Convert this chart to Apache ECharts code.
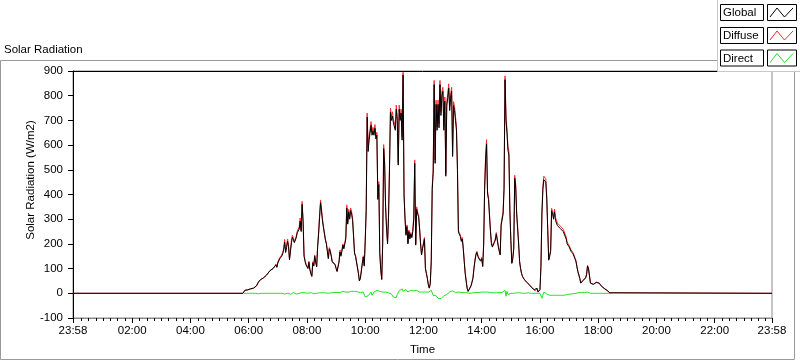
<!DOCTYPE html>
<html>
<head>
<meta charset="utf-8">
<script src="https://cdn.jsdelivr.net/npm/echarts@6/dist/echarts.min.js"></script>
<style>
html,body{margin:0;padding:0;background:#fff;}
#chart{width:800px;height:361px;}
</style>
</head>
<body>
<div id="chart"></div>
<script>
// ---- data ----
const sampleStart = '05:50';     // first sample time
const sampleStepMin = 2;         // minutes between samples
const axisStartMin = -2;         // 23:58 of previous day
const axisEndMin = 1438;         // 23:58
const nightValue = 0;

const globalW = [
0,12,14,15,14,14,16,18,19,20,
21,22,26,30,38,45,50,55,57,58,
62,65,68,72,78,82,88,92,95,98,
100,104,107,115,105,123,118,140,135,150,
160,175,207,165,185,210,190,135,170,205,
228,215,205,200,225,245,240,260,293,250,
360,290,150,130,115,107,100,125,95,80,
68,123,110,150,125,107,187,240,307,367,
330,293,265,240,215,200,170,140,180,170,
150,127,120,125,115,100,88,95,125,167,
150,170,195,180,200,220,345,280,330,300,
335,320,295,230,160,150,155,147,80,50,
60,90,120,147,110,210,334,713,574,620,
613,680,640,658,640,668,625,640,380,440,
160,95,56,200,586,520,347,260,200,307,
500,733,700,718,690,690,660,745,700,519,
745,700,730,620,884,394,300,235,270,200,
250,220,240,225,250,300,526,195,340,320,
310,260,200,155,180,200,220,100,80,60,
35,21,40,128,420,486,845,526,765,660,
765,670,845,720,800,818,660,778,474,760,
790,831,740,790,818,554,760,740,700,658,
500,247,240,230,210,220,180,128,80,48,
20,8,10,15,30,45,61,100,130,155,
165,150,140,141,130,140,108,195,420,540,
605,400,380,313,250,200,187,195,205,215,
240,247,190,170,155,275,280,320,420,865,
700,650,580,560,330,214,121,140,180,466,
430,320,260,200,128,100,80,68,60,55,
50,46,41,41,35,30,25,20,18,15,
10,8,20,5,10,15,108,320,420,460,
466,450,380,254,134,150,170,334,320,300,
330,295,290,274,270,280,262,265,255,250,
240,238,220,200,195,188,180,170,165,160,
150,140,130,108,88,81,60,41,45,50,
55,58,62,75,110,100,70,41,38,37,
36,40,42,44,45,43,41,36,30,28,
25,20,16,14,12,10,6,2,0
];

const diffuseW = [
0,12,14,15,14,14,16,18,19,20,
21,22,26,30,38,45,50,55,57,58,
62,65,68,72,78,82,88,92,95,98,
100,106,109,118,107,127,120,145,138,155,
165,180,218,170,190,220,195,140,175,212,
235,222,210,205,232,252,246,268,305,256,
372,298,155,134,118,110,103,130,98,82,
70,128,114,155,128,110,195,248,318,378,
340,300,270,245,220,204,174,144,185,174,
154,130,123,128,118,102,90,97,130,175,
155,175,200,185,206,228,358,288,340,310,
345,330,302,236,165,154,158,150,82,51,
61,92,124,152,114,218,345,730,590,635,
628,695,655,672,655,683,638,652,390,452,
165,97,57,206,602,534,356,266,205,315,
515,750,716,735,705,704,675,762,715,530,
762,716,746,634,895,405,308,240,277,205,
256,226,246,230,256,308,540,200,350,328,
318,266,205,158,184,205,226,102,81,61,
35,21,41,132,432,500,862,540,782,675,
782,686,862,736,816,834,675,795,485,776,
806,848,756,806,834,568,776,756,716,672,
512,254,246,236,215,226,184,131,82,49,
20,8,10,15,31,46,63,103,134,160,
170,155,145,146,134,145,111,201,432,556,
622,412,392,322,257,206,192,200,210,220,
246,254,195,175,160,283,288,330,432,880,
718,666,595,575,340,220,124,144,185,478,
442,330,268,206,131,102,82,70,61,56,
51,47,42,42,36,31,26,21,18,15,
10,8,20,5,10,15,111,330,433,474,
480,464,392,262,138,155,176,344,330,310,
341,306,300,284,280,290,272,274,264,259,
249,246,228,207,202,194,186,176,170,165,
155,144,134,111,90,83,62,42,46,51,
56,59,64,77,113,102,72,42,39,38,
37,41,43,45,46,44,42,37,31,29,
26,21,16,14,12,10,6,2,0
];

const directW = [
0,0,0,0,0,0,0,0,0,0,
0,0,0,0,0,-2,-2,-2,0,0,
0,0,0,0,0,-2,-2,0,0,0,
0,0,0,0,0,0,0,0,3,0,
0,0,-3,0,2,0,0,2,-4,-2,
0,3,2,0,-3,0,0,0,4,2,
3,5,3,2,2,0,0,2,2,3,
2,0,-2,2,2,0,3,3,2,0,
0,2,0,-2,2,3,2,0,0,2,
2,3,2,3,5,5,3,5,5,3,
5,3,8,10,12,5,8,3,5,8,
5,8,3,5,8,5,3,6,8,5,
3,5,8,5,-5,-15,-20,-18,-10,-15,
-5,5,-8,0,5,-3,10,12,8,5,
8,5,10,5,8,3,5,8,5,2,
0,-5,-3,-10,-15,-20,-12,-18,-5,3,
10,15,5,18,8,0,10,15,12,5,
10,8,12,5,8,10,5,8,12,5,
8,5,10,8,5,5,3,5,8,5,
5,3,8,12,5,-8,-12,-15,-10,-8,
-20,-25,-28,-22,-15,-25,-10,-5,-12,-5,
3,-8,5,-3,8,10,5,8,3,5,
3,5,2,5,3,0,5,3,5,3,
2,5,3,0,3,5,2,3,5,3,
5,8,3,5,10,5,8,3,5,5,
3,5,2,0,3,5,3,2,5,3,
2,3,0,3,5,2,3,5,0,12,
-12,8,-5,3,2,0,2,3,0,2,
0,2,0,0,2,0,0,0,2,0,
0,0,0,2,0,0,0,0,2,0,
0,0,0,0,2,0,-5,-20,-12,5,
3,0,-3,-2,-5,-8,-8,-8,-8,-8,
-8,-8,-8,-8,-8,-8,-8,-8,-8,-8,
-8,-8,-8,-5,-5,-3,-3,-3,-2,-2,
-2,0,0,3,3,3,3,3,3,3,
5,3,3,3,5,3,2,0,0,0,
0,0,0,0,0,0,0,0,0,0,
0,0,0,0,0,0,0,0,0
];

const xTickValues = [-2,120,240,360,480,600,720,840,960,1080,1200,1320,1438];
const xTickLabels = ['23:58','02:00','04:00','06:00','08:00','10:00','12:00','14:00','16:00','18:00','20:00','22:00','23:58'];
const minorTickStepMin = 15;
const seriesNames = ['Global','Diffuse','Direct'];
const seriesColors = ['#000000','#ff2a2a','#1fe51f'];

// ---- build ----
const FONT = '"Liberation Sans", Arial, sans-serif';
function toMin(s){ const p = s.split(':').map(Number); return p[0]*60+p[1]; }
const t0 = toMin(sampleStart);
const times = globalW.map((_, i) => t0 + i*sampleStepMin);
const tLast = times[times.length-1];
function withNight(arr){
  const d = [[axisStartMin, nightValue],[t0 - sampleStepMin, nightValue]];
  arr.forEach((v,i)=>d.push([times[i], v]));
  d.push([tLast + sampleStepMin, nightValue]);
  d.push([axisEndMin, nightValue]);
  return d;
}
function dayOnly(arr){ return arr.map((v,i)=>[times[i], v]); }
const minorTicks = [];
for (let m = minorTickStepMin; m < axisEndMin; m += minorTickStepMin) {
  if (m % 120 !== 0) minorTicks.push(m);
}

const chart = echarts.init(document.getElementById('chart'), null, {renderer:'canvas'});
const axisText = {color:'#000', fontSize:11.5, fontFamily: FONT};

function legendItem(name, color, y){
  return [
    {type:'rect', z:60, silent:true, shape:{x:720.5, y:y+0.5, width:43, height:16}, style:{fill:'#fff', stroke:'#000', lineWidth:1}},
    {type:'text', z:61, silent:true, x:723, y:y+9, style:{text:name, fill:'#000', font:'11.5px ' + FONT, textVerticalAlign:'middle'}},
    {type:'rect', z:60, silent:true, shape:{x:767.5, y:y+0.5, width:29, height:16}, style:{fill:'#fff', stroke:'#000', lineWidth:1}},
    {type:'polyline', z:61, silent:true, shape:{points:[[770,y+13],[777,y+4],[784.5,y+13],[793,y+4]]}, style:{stroke:color, lineWidth:1, fill:null}}
  ];
}

chart.setOption({
  animation:false,
  backgroundColor:'#fff',
  title:{text:'Solar Radiation', left:4, top:44, padding:0,
    textStyle:{fontSize:11.5, fontWeight:'normal', color:'#000', fontFamily:FONT}},
  grid:{left:73, top:71, width:699, height:251, show:true, borderColor:'#8a8a8a', borderWidth:1, backgroundColor:'transparent'},
  xAxis:[
    {type:'value', min:axisStartMin, max:axisEndMin, position:'bottom',
     axisLine:{show:true, onZero:false, lineStyle:{color:'#8a8a8a', width:1}},
     axisTick:{show:true, customValues:xTickValues, length:5, inside:false, lineStyle:{color:'#000'}},
     axisLabel:{show:true, customValues:xTickValues, margin:7, ...axisText,
       formatter:(v)=>{ const i = xTickValues.indexOf(v); return i>=0 ? xTickLabels[i] : ''; }},
     splitLine:{show:false},
     name:'Time', nameLocation:'middle', nameGap:26, nameTextStyle:axisText},
    {type:'value', min:axisStartMin, max:axisEndMin, position:'bottom', offset:0,
     axisLine:{show:false, onZero:false},
     axisTick:{show:true, customValues:minorTicks, length:3, lineStyle:{color:'#000'}},
     axisLabel:{show:false, customValues:minorTicks}, splitLine:{show:false}},
    {type:'value', min:axisStartMin, max:axisEndMin, position:'top',
     axisLine:{show:true, onZero:false, lineStyle:{color:'#000', width:1}},
     axisTick:{show:false}, axisLabel:{show:false}, splitLine:{show:false}}
  ],
  yAxis:{type:'value', min:-100, max:900, interval:100,
    axisLine:{show:true, onZero:false, lineStyle:{color:'#000', width:1}},
    axisTick:{show:true, length:5, lineStyle:{color:'#000'}},
    axisLabel:{margin:10, ...axisText},
    splitLine:{show:false}},
  series:[
    {name:seriesNames[2], type:'line', data:dayOnly(directW), showSymbol:false, symbol:'none',
     lineStyle:{color:seriesColors[2], width:1}, z:2},
    {name:seriesNames[1], type:'line', data:withNight(diffuseW), showSymbol:false, symbol:'none',
     lineStyle:{color:seriesColors[1], width:1}, z:3},
    {name:seriesNames[0], type:'line', data:withNight(globalW), showSymbol:false, symbol:'none',
     lineStyle:{color:seriesColors[0], width:1}, z:4}
  ],
  graphic:[
    {type:'rect', shape:{x:0.5, y:60.5, width:794, height:299}, style:{fill:null, stroke:'#9a9a9a', lineWidth:1}, z:-1, silent:true},
    {type:'text', x:31, y:180, rotation:Math.PI/2, silent:true,
     style:{text:'Solar Radiation (W/m2)', fill:'#000', font:'11.5px ' + FONT, textAlign:'center', textVerticalAlign:'middle'}},
    {type:'rect', shape:{x:717.5, y:-1, width:84, height:72.5}, style:{fill:'#fff', stroke:'#c8c8c8', lineWidth:1}, z:50, silent:true},
    ...legendItem(seriesNames[0], seriesColors[0], 4),
    ...legendItem(seriesNames[1], seriesColors[1], 27),
    ...legendItem(seriesNames[2], seriesColors[2], 49.5)
  ]
});
</script>
</body>
</html>
